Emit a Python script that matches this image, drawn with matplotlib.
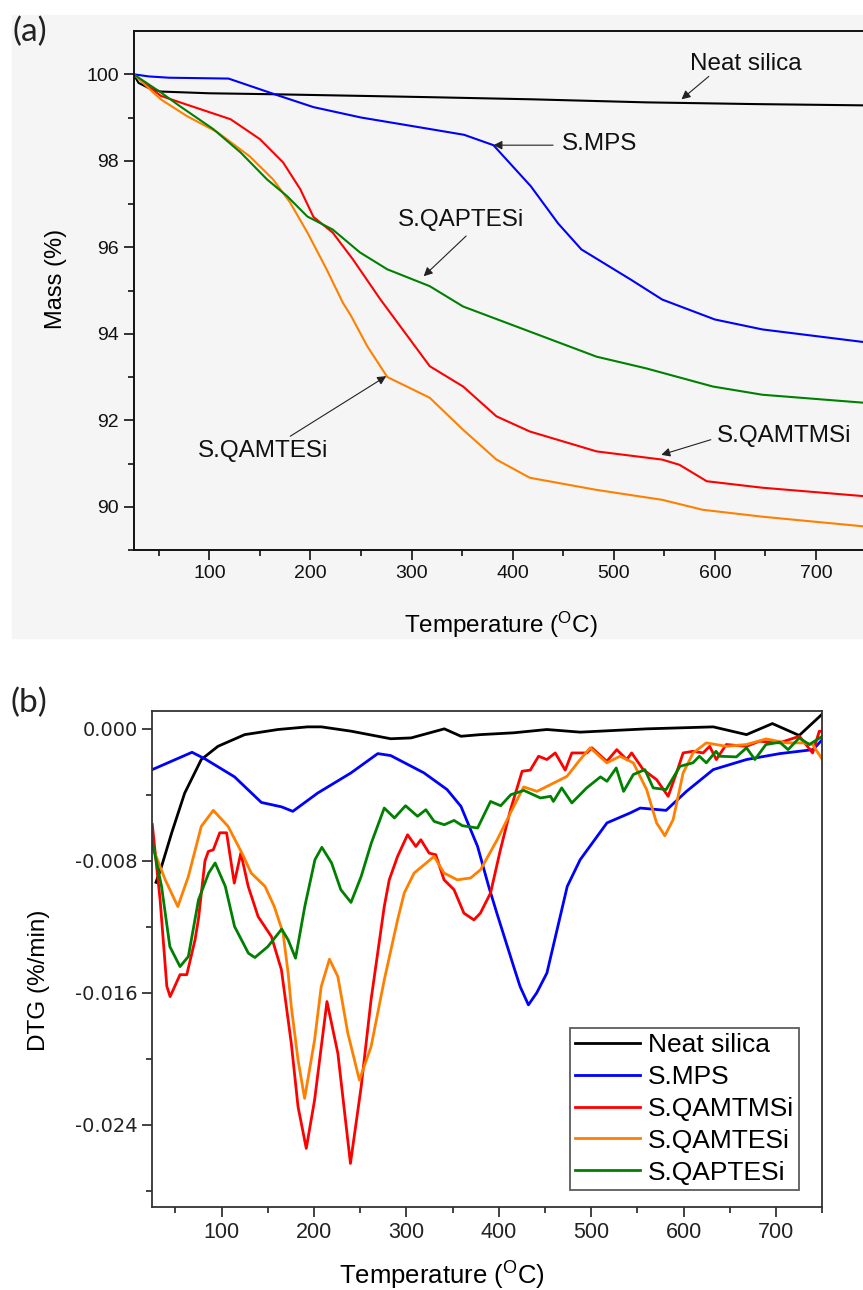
import matplotlib.pyplot as plt
from matplotlib.patches import Rectangle
from matplotlib.ticker import FixedLocator, FormatStrFormatter

plt.rcParams['font.family'] = ['Liberation Sans', 'DejaVu Sans']

# ---------------- (a) TGA: mass loss curves ----------------
tga_silica_t = [25, 30, 40, 52, 100, 157, 250, 318, 420, 532, 640, 750]
tga_silica_m = [100, 99.8, 99.68, 99.6, 99.56, 99.54, 99.5, 99.47, 99.42, 99.35, 99.31, 99.28]

tga_mps_t = [25, 40, 60, 119, 168, 203, 250, 319, 352, 381, 418, 445, 468, 517, 548, 600, 647, 750]
tga_mps_m = [100, 99.95, 99.92, 99.9, 99.51, 99.24, 99.0, 98.73, 98.6, 98.36, 97.41, 96.55,
             95.95, 95.25, 94.79, 94.33, 94.1, 93.8]

tga_qamtms_t = [25, 52, 71, 121, 150, 173, 190, 203, 222, 242, 269, 318, 351, 384, 417, 483,
                548, 565, 592, 647, 750]
tga_qamtms_m = [100, 99.5, 99.35, 98.96, 98.5, 97.96, 97.34, 96.7, 96.34, 95.72, 94.8, 93.25,
                92.78, 92.09, 91.74, 91.28, 91.09, 90.97, 90.59, 90.44, 90.24]

tga_qamtes_t = [25, 52, 78, 108, 140, 163, 180, 197, 216, 232, 240, 256, 276, 318, 351, 384,
                417, 483, 548, 588, 647, 750]
tga_qamtes_m = [100, 99.42, 99.03, 98.66, 98.1, 97.57, 97.03, 96.34, 95.49, 94.72, 94.42, 93.72,
                93.0, 92.52, 91.78, 91.09, 90.67, 90.39, 90.16, 89.93, 89.77, 89.54]

tga_qaptes_t = [25, 52, 71, 104, 131, 157, 177, 197, 222, 249, 276, 318, 351, 417, 483, 532,
                598, 647, 750]
tga_qaptes_m = [100, 99.58, 99.26, 98.73, 98.19, 97.57, 97.18, 96.71, 96.41, 95.88, 95.49, 95.1,
                94.63, 94.05, 93.47, 93.2, 92.78, 92.59, 92.4]

# ---------------- (b) DTG curves ----------------
dtg_silica_t = [29, 35, 46, 60, 78, 96, 125, 161, 193, 208, 240, 283, 305, 341, 359, 380, 416,
                452, 488, 560, 632, 668, 696, 725, 750]
dtg_silica_d = [-0.0093, -0.00834, -0.0063, -0.0039, -0.00186, -0.00106, -0.00035, -0.00004,
                0.00012, 0.00012, -0.00014, -0.0006, -0.00055, 0.0, -0.00045, -0.00035, -0.00024,
                -0.00004, -0.0002, 0.0, 0.00012, -0.00035, 0.00032, -0.0004, 0.0009]

dtg_mps_t = [25, 68, 82, 114, 143, 165, 177, 204, 240, 269, 283, 319, 344, 359, 377, 389, 398,
             416, 423, 432, 441, 452, 474, 488, 517, 542, 553, 581, 603, 632, 668, 704, 740, 750]
dtg_mps_d = [-0.00247, -0.00142, -0.00182, -0.00291, -0.00446, -0.00473, -0.005, -0.00389,
             -0.00267, -0.0015, -0.00162, -0.00267, -0.00368, -0.0047, -0.00713, -0.00955,
             -0.0112, -0.0144, -0.01562, -0.01673, -0.016, -0.0148, -0.00955, -0.00793, -0.0057,
             -0.0051, -0.0048, -0.00494, -0.00379, -0.00247, -0.00186, -0.0015, -0.00126,
             -0.00065]

dtg_qamtms_t = [25, 33.5, 40.7, 44.3, 55, 62.3, 71.2, 75, 82, 85.6, 91, 98, 105.4, 113.7, 120.8,
                128.8, 139.5, 153.9, 164.7, 175.4, 182.7, 191.6, 200.6, 214, 225.8, 239.4, 251,
                261.7, 276, 281.4, 290.4, 301.2, 310.2, 315.6, 324.5, 331.7, 340.7, 351.5, 362.2,
                373, 380, 391, 401.8, 412.6, 425.2, 434, 443, 452, 461, 471.8, 479, 495.2, 500.6,
                516.8, 527.6, 538.3, 543.7, 556.2, 570.7, 583.2, 592.2, 599.4, 610.2, 621, 628.1,
                635.3, 646.1, 667.7, 682, 703.6, 725.2, 739.5, 746.7, 750]
dtg_qamtms_d = [-0.0058, -0.0104, -0.0156, -0.01623, -0.0149, -0.0149, -0.0128, -0.0115, -0.008,
                -0.00743, -0.00733, -0.0063, -0.0063, -0.00935, -0.00753, -0.00955, -0.01138,
                -0.01259, -0.0146, -0.01906, -0.0229, -0.02543, -0.0225, -0.01653, -0.01967,
                -0.02634, -0.0217, -0.01643, -0.01077, -0.00915, -0.00773, -0.00642, -0.00713,
                -0.00672, -0.00753, -0.00763, -0.00915, -0.00975, -0.01117, -0.01158, -0.01117,
                -0.00995, -0.0073, -0.0049, -0.00257, -0.0025, -0.00166, -0.00186, -0.00146,
                -0.0025, -0.00146, -0.00146, -0.00115, -0.00197, -0.00126, -0.00186, -0.00146,
                -0.00247, -0.00308, -0.00409, -0.00267, -0.00146, -0.00136, -0.00146, -0.00106,
                -0.00186, -0.00095, -0.00106, -0.00075, -0.00085, -0.00045, -0.00146, -0.00015,
                -0.00015]

dtg_qamtes_t = [25, 39, 52.6, 64, 78, 91, 107, 122, 132, 147, 157, 166.5, 172, 175.4, 182.7,
                189.8, 200.6, 207.8, 216.7, 225.8, 236.6, 249.1, 261.7, 276, 290.4, 297.6, 308.3,
                319.1, 329.9, 340.7, 355, 369.4, 380.2, 398.2, 416.1, 426.9, 441.3, 473.7, 488,
                498.8, 516.8, 531.1, 545.5, 559.9, 570.7, 579.6, 588.6, 599.4, 610.2, 624.5,
                646.1, 667.7, 689.3, 710.8, 728.7, 739.5, 750]
dtg_qamtes_d = [-0.00713, -0.00915, -0.01077, -0.00895, -0.00591, -0.00494, -0.00591, -0.00753,
                -0.00874, -0.00955, -0.01077, -0.01238, -0.01481, -0.01684, -0.02007, -0.0224,
                -0.01886, -0.01562, -0.01396, -0.01502, -0.01845, -0.02129, -0.01927, -0.01522,
                -0.01158, -0.00995, -0.00874, -0.00824, -0.00773, -0.00874, -0.00915, -0.00904,
                -0.00854, -0.00672, -0.0047, -0.00352, -0.00379, -0.00288, -0.00186, -0.00115,
                -0.00206, -0.00166, -0.00206, -0.00368, -0.0057, -0.00648, -0.0055, -0.00267,
                -0.00146, -0.00085, -0.00106, -0.00095, -0.00061, -0.00085, -0.00085, -0.00095,
                -0.00185]

dtg_qaptes_t = [25, 35, 44, 55, 64, 75, 86, 93, 104, 114, 129, 136, 150, 165, 172, 180, 190, 201,
                208.5, 219, 229, 240, 251, 262, 276, 287, 299, 312, 321, 330, 341, 351.5, 360.5,
                377, 391, 402, 413, 427, 445, 456, 459, 468, 479, 495, 510, 517, 527, 535, 545.5,
                558, 567, 581, 596, 610, 617, 624.5, 635, 639, 657, 668, 677, 689, 704, 713, 725,
                736, 750]
dtg_qaptes_d = [-0.00682, -0.00955, -0.0132, -0.01441, -0.0138, -0.01036, -0.00874, -0.00813,
                -0.00955, -0.01198, -0.0136, -0.01386, -0.0132, -0.01214, -0.01279, -0.0139,
                -0.01077, -0.00793, -0.00718, -0.00813, -0.00975, -0.01052, -0.00895, -0.00692,
                -0.0048, -0.0054, -0.00466, -0.0053, -0.0049, -0.00561, -0.00581, -0.00555,
                -0.00587, -0.00601, -0.0044, -0.00466, -0.00399, -0.00373, -0.00419, -0.00409,
                -0.0044, -0.00358, -0.00449, -0.00358, -0.00291, -0.00318, -0.00237, -0.00379,
                -0.00277, -0.00247, -0.00358, -0.00368, -0.00227, -0.00206, -0.00166, -0.00206,
                -0.00136, -0.00166, -0.0017, -0.00115, -0.00186, -0.00095, -0.00081, -0.00126,
                -0.00055, -0.00095, -0.00045]

names = ['Neat silica', 'S.MPS', 'S.QAMTMSi', 'S.QAMTESi', 'S.QAPTESi']
colors = ['#000000', '#0000FF', '#FF0000', '#FF8000', '#008000']

tga = [(tga_silica_t, tga_silica_m), (tga_mps_t, tga_mps_m), (tga_qamtms_t, tga_qamtms_m),
       (tga_qamtes_t, tga_qamtes_m), (tga_qaptes_t, tga_qaptes_m)]
dtg = [(dtg_silica_t, dtg_silica_d), (dtg_mps_t, dtg_mps_d), (dtg_qamtms_t, dtg_qamtms_d),
       (dtg_qamtes_t, dtg_qamtes_d), (dtg_qaptes_t, dtg_qaptes_d)]

# label text, text anchor (T, mass), arrow tail, arrow tip
tga_notes = [
    ('Neat silica', (575, 100.23), (594, 99.95), (567, 99.42)),
    ('S.MPS', (449, 98.38), (440, 98.36), (381, 98.36)),
    ('S.QAPTESi', (287, 96.64), (354, 96.26), (312, 95.33)),
    ('S.QAMTESi', (89, 91.28), (180, 91.63), (275, 93.02)),
    ('S.QAMTMSi', (602, 91.63), (596, 91.55), (547, 91.2)),
]

W, H = 863, 1290
fig = plt.figure(figsize=(W / 100, H / 100), dpi=100)

# grey scanned-panel backdrop behind (a)
fig.add_artist(Rectangle((12 / W, 1 - 638 / H), 1 - 12 / W, 623 / H,
                         transform=fig.transFigure, color='#f5f5f5', zorder=-5))

# ---- panel (a) ----
ax1 = fig.add_axes([133.5 / W, 1 - 550 / H, 733 / W, 519 / H])
ax1.set_facecolor('none')
for (t, m), c in zip(tga, colors):
    ax1.plot(t, m, color=c, lw=1.5)
ax1.set_xlim(25, 750)
ax1.set_ylim(89, 101)
ax1.xaxis.set_major_locator(FixedLocator([100, 200, 300, 400, 500, 600, 700]))
ax1.xaxis.set_minor_locator(FixedLocator([50, 150, 250, 350, 450, 550, 650, 750]))
ax1.yaxis.set_major_locator(FixedLocator([90, 92, 94, 96, 98, 100]))
ax1.yaxis.set_minor_locator(FixedLocator([89, 91, 93, 95, 97, 99]))
ax1.tick_params(which='both', direction='out', width=1.2, labelsize=14, colors='#111111')
ax1.tick_params(which='major', length=7)
ax1.tick_params(which='minor', length=4)
for s in ['left', 'bottom', 'top']:
    ax1.spines[s].set_linewidth(1.4)
    ax1.spines[s].set_color('#111111')
ax1.spines['right'].set_visible(False)
ax1.set_xlabel('Temperature ($\\mathregular{^{O}}$C)', fontsize=17.5, va='center')
ax1.xaxis.set_label_coords(0.5014, -0.1445)
ax1.set_ylabel('Mass (%)', fontsize=17, va='center')
ax1.yaxis.set_label_coords(-0.106, 0.522)

for label, txt_xy, tail, tip in tga_notes:
    ax1.text(txt_xy[0], txt_xy[1], label, fontsize=17.5, ha='left', va='center', color='#111111')
    ax1.annotate('', xy=tip, xytext=tail,
                 arrowprops=dict(arrowstyle='-|>', color='#222222', lw=0.8,
                                 shrinkA=0, shrinkB=0, mutation_scale=13))

fig.text(12 / W, 1 - 32 / H, '(a)', fontsize=24, family='Lato', color='#222222',
         ha='left', va='center')

# ---- panel (b) ----
ax2 = fig.add_axes([152.3 / W, 1 - 1207.3 / H, 670 / W, 496.6 / H])
for (t, d), c, n in zip(dtg, colors, names):
    ax2.plot(t, d, color=c, lw=2.0, label=n)
ax2.set_xlim(25, 750)
ax2.set_ylim(-0.029, 0.0011)
ax2.xaxis.set_major_locator(FixedLocator([100, 200, 300, 400, 500, 600, 700]))
ax2.xaxis.set_minor_locator(FixedLocator([50, 150, 250, 350, 450, 550, 650, 750]))
ax2.yaxis.set_major_locator(FixedLocator([0.0, -0.008, -0.016, -0.024]))
ax2.yaxis.set_minor_locator(FixedLocator([-0.004, -0.012, -0.020, -0.028]))
ax2.yaxis.set_major_formatter(FormatStrFormatter('%.3f'))
ax2.tick_params(which='both', direction='out', width=1.2, colors='#222222')
ax2.tick_params(which='major', length=7)
ax2.tick_params(which='minor', length=4)
ax2.tick_params(axis='x', labelsize=15.5)
ax2.tick_params(axis='y', labelsize=14)
for lab in ax2.get_yticklabels():
    lab.set_family('DejaVu Sans')
for s in ax2.spines.values():
    s.set_linewidth(1.3)
    s.set_color('#333333')
ax2.set_xlabel('Temperature ($\\mathregular{^{O}}$C)', fontsize=18.5, va='center')
ax2.xaxis.set_label_coords(0.4316, -0.138)
ax2.set_ylabel('DTG (%/min)', fontsize=17.5, va='center')
ax2.yaxis.set_label_coords(-0.169, 0.458)

leg = ax2.legend(loc='lower left', bbox_to_anchor=(0.623, 0.035), borderaxespad=0,
                 fontsize=19, frameon=True, fancybox=False, edgecolor='#333333',
                 handlelength=2.45, handletextpad=0.3, labelspacing=0.3, borderpad=0.2)
leg.get_frame().set_linewidth(1.3)

fig.text(10 / W, 1 - 703 / H, '(b)', fontsize=24, family='Lato', color='#222222',
         ha='left', va='center')

fig.savefig('out.png', dpi=100)
